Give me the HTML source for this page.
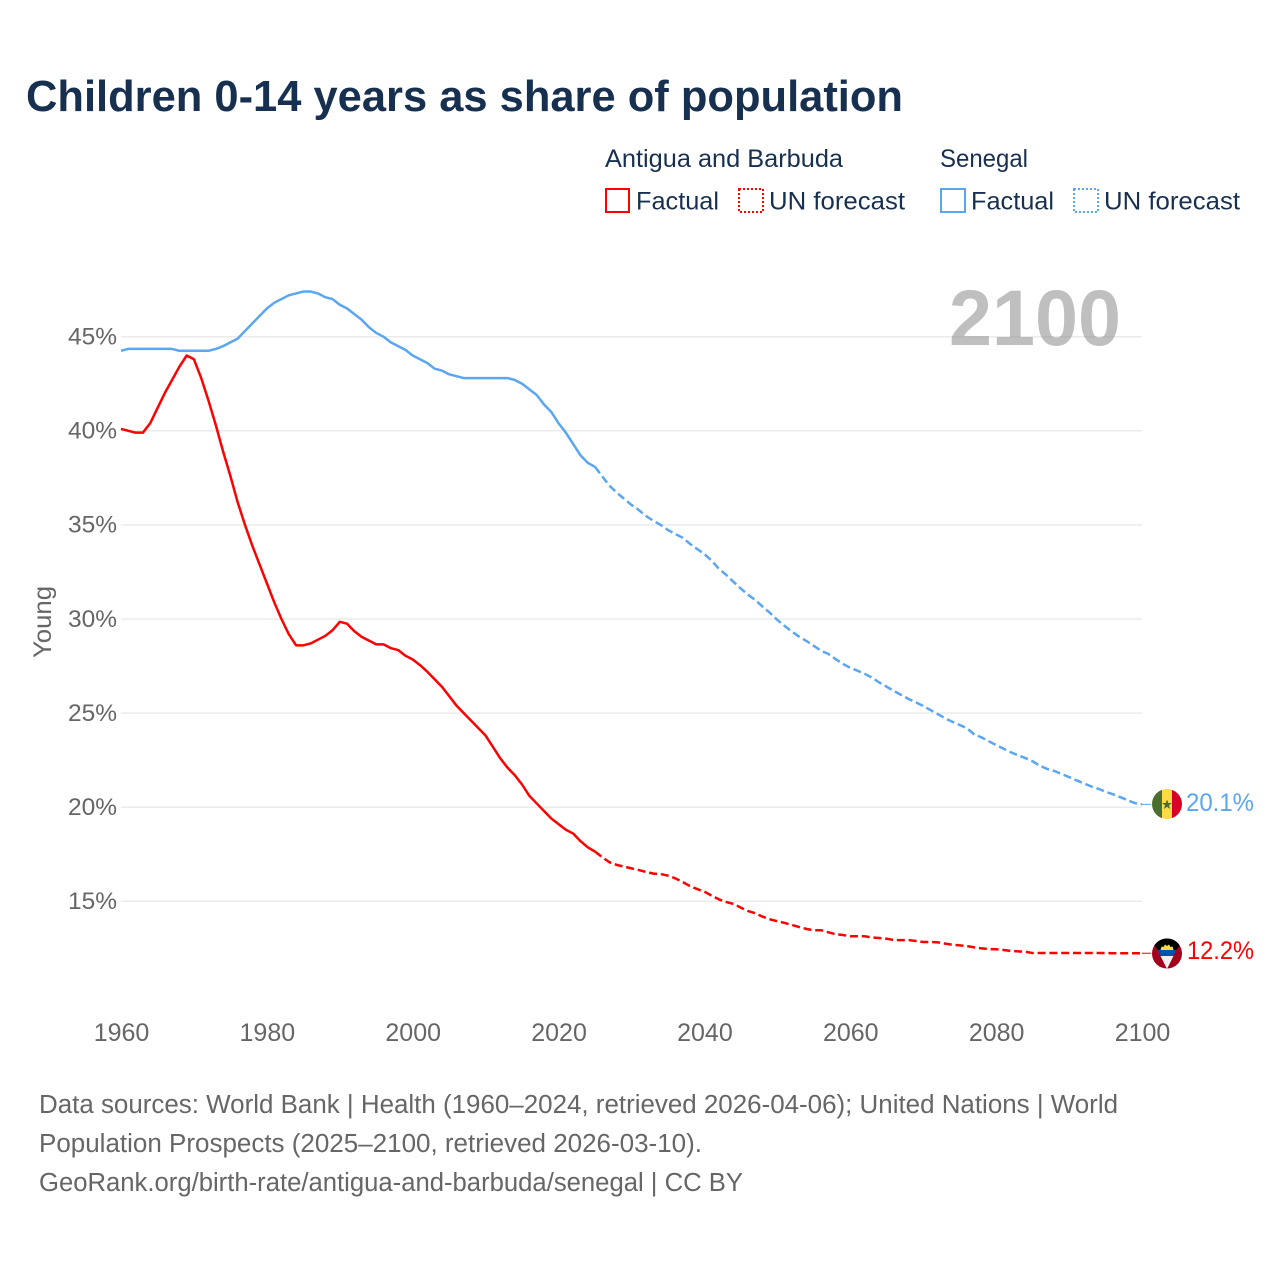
<!DOCTYPE html>
<html lang="en">
<head>
<meta charset="utf-8">
<title>Children 0-14 years as share of population</title>
<style>
html,body{margin:0;padding:0;background:#fff;width:1280px;height:1280px;overflow:hidden}
svg{display:block;font-family:"Liberation Sans",sans-serif}
</style>
</head>
<body>
<svg id="chart" width="1280" height="1280" viewBox="0 0 1280 1280" xmlns="http://www.w3.org/2000/svg">
  <defs>
    <clipPath id="flag-clip-top"><circle cx="1167" cy="804" r="15"/></clipPath>
    <clipPath id="flag-clip-bottom"><circle cx="1167" cy="953.5" r="15"/></clipPath>
  </defs>
  <text x="26" y="111" font-size="44" font-weight="700" fill="#18304f" textLength="877" lengthAdjust="spacingAndGlyphs">Children 0-14 years as share of population</text>

  <g font-size="25" fill="#18304f">
    <text x="605" y="167" textLength="238" lengthAdjust="spacingAndGlyphs">Antigua and Barbuda</text>
    <text x="940" y="167" textLength="88" lengthAdjust="spacingAndGlyphs">Senegal</text>
    <rect x="606" y="189" width="23" height="23" fill="none" stroke="#ff0000" stroke-width="2"/>
    <text x="636" y="209.5" textLength="83" lengthAdjust="spacingAndGlyphs">Factual</text>
    <rect x="739" y="189" width="24" height="23" fill="none" stroke="#ff0000" stroke-width="2" stroke-dasharray="2 2"/>
    <text x="769" y="209.5" textLength="136" lengthAdjust="spacingAndGlyphs">UN forecast</text>
    <rect x="941" y="189" width="24" height="23" fill="none" stroke="#5ba6f0" stroke-width="2"/>
    <text x="971" y="209.5" textLength="83" lengthAdjust="spacingAndGlyphs">Factual</text>
    <rect x="1074" y="189" width="24" height="23" fill="none" stroke="#5ba6f0" stroke-width="2" stroke-dasharray="2 2"/>
    <text x="1104" y="209.5" textLength="136" lengthAdjust="spacingAndGlyphs">UN forecast</text>
  </g>

  <g id="grid"></g>
  <g id="y-ticks"></g>
  <g id="x-ticks"></g>
  <text transform="translate(51,622) rotate(-90)" text-anchor="middle" font-size="25" fill="#666666" textLength="72" lengthAdjust="spacingAndGlyphs">Young</text>
  <text x="949" y="345" font-size="79" font-weight="700" fill="#808080" fill-opacity="0.5" textLength="172" lengthAdjust="spacingAndGlyphs">2100</text>
  <g id="series"></g>

  <g clip-path="url(#flag-clip-top)">
    <rect x="1152" y="789" width="10" height="30" fill="#496e2d"/>
    <rect x="1162" y="789" width="10" height="30" fill="#ffda44"/>
    <rect x="1172" y="789" width="10" height="30" fill="#d80027"/>
    <polygon points="1167,799.5 1168.3,803 1172,803 1169,805.3 1170.1,809 1167,806.8 1163.9,809 1165,805.3 1162,803 1165.7,803" fill="#496e2d"/>
  </g>
  <g clip-path="url(#flag-clip-bottom)">
    <rect x="1152" y="938" width="30" height="31" fill="#a2001d"/>
    <polygon points="1152,938 1182,938 1182,943 1176,950 1158,950 1152,943" fill="#000000"/>
    <polygon points="1160.5,950 1161.5,946.5 1163.5,947 1165,944.5 1167,946 1169,944.5 1170.5,947 1172.5,946.5 1173.5,950" fill="#ffda44"/>
    <polygon points="1158,950 1176,950 1173.5,956 1160.5,956" fill="#0052b4"/>
    <polygon points="1160.5,956 1173.5,956 1167,969" fill="#f0f0f0"/>
  </g>
  <text id="end-label-senegal" x="1186" y="811" font-size="25" fill="#5ba6f0" textLength="68" lengthAdjust="spacingAndGlyphs"></text>
  <text id="end-label-antigua" x="1187" y="959" font-size="25" fill="#ff0000" textLength="67" lengthAdjust="spacingAndGlyphs"></text>

  <g font-size="25.5" fill="#666666">
    <text x="39" y="1113" textLength="1079" lengthAdjust="spacingAndGlyphs">Data sources: World Bank | Health (1960–2024, retrieved 2026-04-06); United Nations | World</text>
    <text x="39" y="1152" textLength="663" lengthAdjust="spacingAndGlyphs">Population Prospects (2025–2100, retrieved 2026-03-10).</text>
    <text x="39" y="1191" textLength="704" lengthAdjust="spacingAndGlyphs">GeoRank.org/birth-rate/antigua-and-barbuda/senegal | CC BY</text>
  </g>
</svg>
<script>
const yTickValues = [15, 20, 25, 30, 35, 40, 45];
const xTickValues = [1960, 1980, 2000, 2020, 2040, 2060, 2080, 2100];
const firstFactualYear = 1960;
const firstForecastYear = 2025;
const antiguaFactual = [40.1,40.0,39.9,39.9,40.4,41.2,42.0,42.7,43.4,44.0,43.8,42.8,41.6,40.3,38.9,37.6,36.2,35.0,33.9,32.9,31.9,30.9,30.0,29.2,28.6,28.6,28.7,28.9,29.1,29.4,29.85,29.75,29.35,29.05,28.85,28.65,28.65,28.45,28.35,28.05,27.85,27.55,27.2,26.8,26.4,25.9,25.4,25.0,24.6,24.2,23.8,23.2,22.6,22.1,21.7,21.2,20.6,20.2,19.8,19.4,19.1,18.8,18.6,18.2,17.87,17.64];
const antiguaForecast = [17.64,17.34,17.07,16.93,16.84,16.75,16.66,16.56,16.47,16.45,16.36,16.22,16.03,15.81,15.65,15.51,15.3,15.1,14.96,14.86,14.66,14.48,14.36,14.18,14.04,13.94,13.85,13.74,13.63,13.53,13.46,13.46,13.35,13.25,13.21,13.14,13.14,13.14,13.07,13.05,13.01,12.94,12.94,12.94,12.89,12.84,12.84,12.82,12.75,12.69,12.66,12.62,12.55,12.5,12.46,12.45,12.41,12.36,12.34,12.32,12.25,12.25,12.25,12.25,12.25,12.25,12.25,12.25,12.25,12.25,12.25,12.24,12.24,12.24,12.24,12.24];
const senegalFactual = [44.25,44.35,44.35,44.35,44.35,44.35,44.35,44.35,44.25,44.25,44.25,44.25,44.25,44.35,44.5,44.7,44.9,45.3,45.7,46.1,46.5,46.8,47.0,47.2,47.3,47.4,47.4,47.3,47.1,47.0,46.7,46.5,46.2,45.9,45.5,45.2,45.0,44.7,44.5,44.3,44.0,43.8,43.6,43.3,43.2,43.0,42.9,42.8,42.8,42.8,42.8,42.8,42.8,42.8,42.7,42.5,42.2,41.9,41.4,41.0,40.4,39.9,39.3,38.7,38.3,38.08];
const senegalForecast = [38.08,37.57,37.07,36.71,36.38,36.06,35.79,35.47,35.22,35.0,34.73,34.52,34.32,34.0,33.72,33.45,33.1,32.66,32.34,31.97,31.61,31.29,31.0,30.65,30.32,29.95,29.63,29.33,29.06,28.83,28.57,28.32,28.14,27.87,27.61,27.41,27.25,27.08,26.88,26.62,26.4,26.17,25.96,25.75,25.57,25.38,25.16,24.95,24.72,24.54,24.37,24.19,23.87,23.71,23.5,23.3,23.11,22.92,22.76,22.61,22.44,22.2,22.03,21.92,21.76,21.6,21.43,21.27,21.11,20.98,20.82,20.69,20.54,20.38,20.22,20.15];
const endLabelValues = { senegal: 20.1, antigua: 12.2 };

const svgNS = 'http://www.w3.org/2000/svg';
function xScale(year) { return 121 + (year - 1960) * (1142 - 121) / 140; }
function yScale(value) { return 336.7 + (45 - value) * 18.82; }
function linePoints(values, startYear) {
  return values.map(function (v, i) { return xScale(startYear + i).toFixed(2) + ',' + yScale(v).toFixed(2); }).join(' ');
}

const gridGroup = document.getElementById('grid');
const yGroup = document.getElementById('y-ticks');
yTickValues.forEach(function (v) {
  const line = document.createElementNS(svgNS, 'line');
  
  
  line.setAttribute('x1', xScale(1960));
  line.setAttribute('x2', xScale(2100));
  line.setAttribute('y1', yScale(v));
  line.setAttribute('y2', yScale(v));
  line.setAttribute('stroke', '#ebebeb');
  line.setAttribute('stroke-width', '1.5');
  gridGroup.appendChild(line);
  const label = document.createElementNS(svgNS, 'text');
  
  
  label.setAttribute('x', 117);
  label.setAttribute('y', yScale(v) + 7.8);
  label.setAttribute('text-anchor', 'end');
  label.setAttribute('font-size', '24.5');
  label.setAttribute('fill', '#666666');
  label.textContent = v + '%';
  yGroup.appendChild(label);
});

const xGroup = document.getElementById('x-ticks');
xTickValues.forEach(function (year) {
  const label = document.createElementNS(svgNS, 'text');
  
  
  label.setAttribute('x', xScale(year) + 0.5);
  label.setAttribute('y', 1041);
  label.setAttribute('text-anchor', 'middle');
  label.setAttribute('font-size', '25');
  label.setAttribute('fill', '#666666');
  label.textContent = year;
  xGroup.appendChild(label);
});

const seriesGroup = document.getElementById('series');
function addLine(name, values, startYear, color, dash) {
  const line = document.createElementNS(svgNS, 'polyline');
  
  
  line.setAttribute('points', linePoints(values, startYear));
  line.setAttribute('fill', 'none');
  line.setAttribute('stroke', color);
  line.setAttribute('stroke-width', '2.5');
  line.setAttribute('stroke-linejoin', 'round');
  if (dash) line.setAttribute('stroke-dasharray', dash);
  seriesGroup.appendChild(line);
}
function addLeader(name, value, color) {
  const line = document.createElementNS(svgNS, 'line');
  
  
  line.setAttribute('x1', xScale(2100));
  line.setAttribute('x2', xScale(2100) + 9);
  line.setAttribute('y1', yScale(value));
  line.setAttribute('y2', yScale(value));
  line.setAttribute('stroke', color);
  line.setAttribute('stroke-width', '1');
  seriesGroup.appendChild(line);
}
addLine('line-senegal-factual', senegalFactual, firstFactualYear, '#5ba6f0');
addLine('line-senegal-forecast', senegalForecast, firstForecastYear, '#5ba6f0', '8 3.8');
addLine('line-antigua-factual', antiguaFactual, firstFactualYear, '#ff0000');
addLine('line-antigua-forecast', antiguaForecast, firstForecastYear, '#ff0000', '8 3.8');
addLeader('leader-senegal', senegalForecast[senegalForecast.length - 1], '#5ba6f0');
addLeader('leader-antigua', antiguaForecast[antiguaForecast.length - 1], '#ff0000');

document.getElementById('end-label-senegal').textContent = endLabelValues.senegal.toFixed(1) + '%';
document.getElementById('end-label-antigua').textContent = endLabelValues.antigua.toFixed(1) + '%';
</script>
</body>
</html>
